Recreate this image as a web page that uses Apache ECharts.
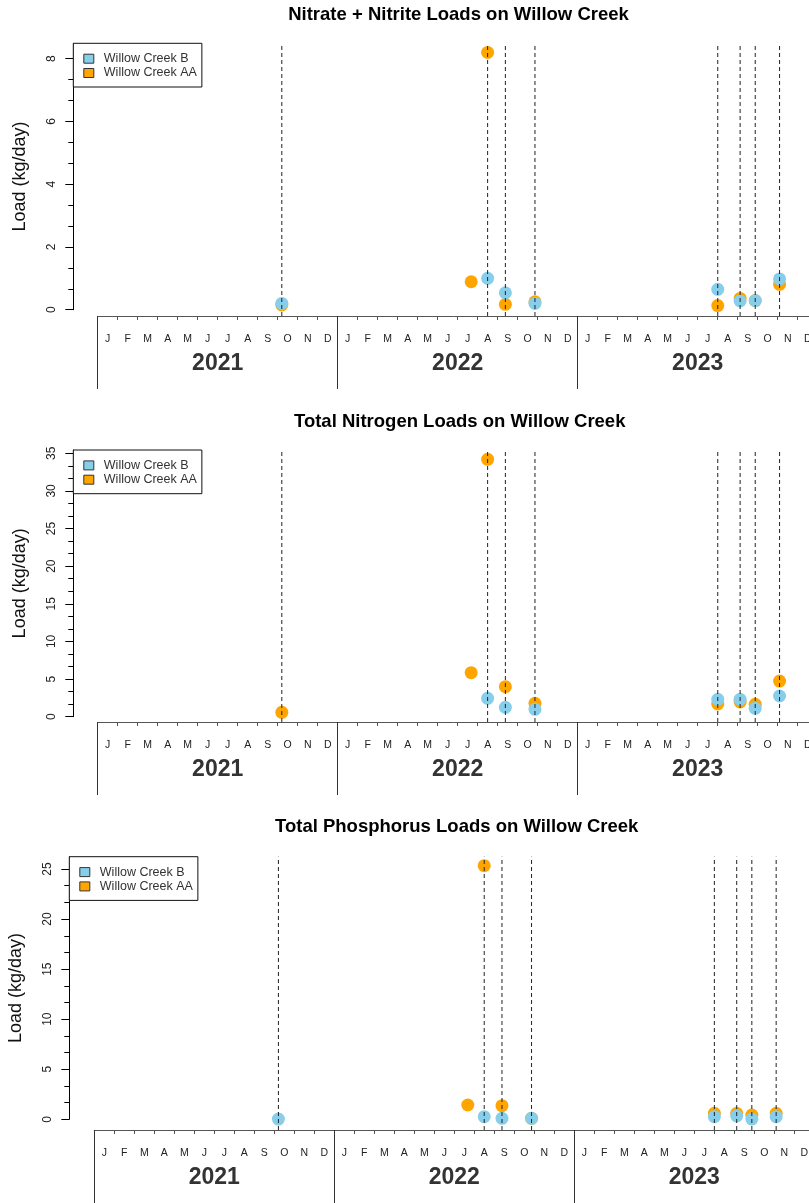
<!DOCTYPE html>
<html>
<head>
<meta charset="utf-8">
<script src="https://cdn.jsdelivr.net/npm/echarts@6/dist/echarts.min.js"></script>
<style>
  html, body { margin: 0; padding: 0; background: #fff; }
  #chart { width: 809px; height: 1203px; }
</style>
</head>
<body>
<div id="chart"></div>
<script>
// Sampling dates (one entry per sampling event)
const sampleDates = ['2021-10-08', '2022-07-23', '2022-08-17', '2022-09-13', '2022-10-28',
                     '2023-08-02', '2023-09-05', '2023-09-28', '2023-11-04'];
// Dates marked with a dashed vertical reference line
const dashedDates = ['2021-10-08', '2022-08-17', '2022-09-13', '2022-10-28',
                     '2023-08-02', '2023-09-05', '2023-09-28', '2023-11-04'];

const monthLetters = ['J', 'F', 'M', 'A', 'M', 'J', 'J', 'A', 'S', 'O', 'N', 'D'];
const years = ['2021', '2022', '2023'];
const siteNames = ['Willow Creek B', 'Willow Creek AA'];
const siteColors = ['#87CEEB', '#FFA500'];

const titles = [
  'Nitrate + Nitrite Loads on Willow Creek',
  'Total Nitrogen Loads on Willow Creek',
  'Total Phosphorus Loads on Willow Creek'
];
const yName = 'Load (kg/day)';

// Loads in kg/day, aligned with sampleDates (null = no sample)
const noxB  = [0.20, null, 1.00, 0.54, 0.20, 0.65, 0.28, 0.29, 0.98];
const noxAA = [0.15, 0.89, 8.20, 0.17, 0.25, 0.13, 0.36, 0.29, 0.81];
const tnB   = [null, null, 2.44, 1.25, 0.98, 2.31, 2.31, 1.11, 2.75];
const tnAA  = [0.58, 5.85, 34.2, 3.99, 1.78, 1.69, 1.95, 1.64, 4.74];
const tpB   = [0.02, null, 0.26, 0.10, 0.10, 0.26, 0.33, 0.02, 0.26];
const tpAA  = [null, 1.43, 25.33, 1.36, 0.10, 0.60, 0.60, 0.43, 0.60];

// Labelled y ticks for each panel
const noxTicks = [0, 2, 4, 6, 8];
const tnTicks  = [0, 5, 10, 15, 20, 25, 30, 35];
const tpTicks  = [0, 5, 10, 15, 20, 25];

// Panel layout (pixels) and value range
const panels = [
  { title: titles[0], b: noxB, aa: noxAA, ticks: noxTicks, yMax: 8.49,
    titleX: 458.5, titleY: 15, axisX: 73.3, left: 97.7, top: 43.3, zero: 309.7, axisY: 316 },
  { title: titles[1], b: tnB, aa: tnAA, ticks: tnTicks, yMax: 35.44,
    titleX: 459.7, titleY: 421.7, axisX: 73.3, left: 97.7, top: 450, zero: 716.7, axisY: 722 },
  { title: titles[2], b: tpB, aa: tpAA, ticks: tpTicks, yMax: 26.23,
    titleX: 456.7, titleY: 827.3, axisX: 69.3, left: 94.3, top: 856.7, zero: 1119.3, axisY: 1130 }
];

const FONT = 'Liberation Sans, Arial, sans-serif';
const monthCats = [];
years.forEach(y => monthLetters.forEach((m, k) => monthCats.push(y + '-' + (k + 1))));

function minorOf(ticks) {
  const out = [];
  for (let k = 0; k < ticks.length - 1; k++) {
    const step = (ticks[k + 1] - ticks[k]) / 3;
    out.push(ticks[k] + step, ticks[k] + 2 * step);
  }
  return out;
}

function points(vals) {
  const out = [];
  vals.forEach((v, k) => { if (v != null) out.push([sampleDates[k], v]); });
  return out;
}

const option = {
  animation: false,
  backgroundColor: '#fff',
  textStyle: { fontFamily: FONT },
  title: [], legend: [], grid: [], xAxis: [], yAxis: [], series: []
};

panels.forEach((p, i) => {
  const plotH = p.zero - p.top;
  const axisOffset = p.axisY - p.zero;
  const yBottom = -axisOffset * p.yMax / plotH;

  option.title.push({
    text: p.title, left: p.titleX, top: p.titleY, padding: 0,
    textAlign: 'center', textVerticalAlign: 'middle',
    textStyle: { fontFamily: FONT, fontSize: 18.5, fontWeight: 'bold', color: '#000' }
  });

  option.legend.push({
    data: siteNames, orient: 'vertical', left: p.axisX, top: p.top,
    padding: [8.4, 5, 7, 10], itemGap: 0.3, itemWidth: 10, itemHeight: 9,
    icon: 'rect', selectedMode: false, z: 10,
    backgroundColor: '#fff', borderColor: '#111', borderWidth: 1,
    itemStyle: { borderColor: '#333', borderWidth: 1 },
    textStyle: { fontFamily: FONT, fontSize: 12.5, color: '#333', lineHeight: 14, padding: [0, 0, 0, 5] }
  });

  // the time span runs a little past the right edge of the page
  option.grid.push({ left: p.left, top: p.top, width: 720, height: plotH, outerBoundsMode: 'none' });

  // data scale (calendar time)
  option.xAxis.push({
    type: 'time', gridIndex: i, position: 'bottom', show: false,
    min: '2021-01-01', max: '2024-01-01'
  });
  // month letters
  option.xAxis.push({
    type: 'category', gridIndex: i, position: 'bottom', offset: axisOffset,
    data: monthCats, boundaryGap: true,
    axisLine: { show: true, onZero: false, lineStyle: { color: '#555', width: 1 } },
    axisTick: { show: true, interval: 0, length: 4, lineStyle: { color: '#555' } },
    axisLabel: { interval: 0, margin: 18, fontSize: 10.5, color: '#222', fontFamily: FONT,
                 formatter: (v, idx) => monthLetters[idx % 12] },
    splitLine: { show: false }
  });
  // years
  option.xAxis.push({
    type: 'category', gridIndex: i, position: 'bottom', offset: axisOffset,
    data: years, boundaryGap: true,
    axisLine: { show: false, onZero: false },
    axisTick: { show: true, interval: 0, length: 73, lineStyle: { color: '#333' } },
    axisLabel: { interval: 0, margin: 36.5, fontSize: 23, fontWeight: 'bold', color: '#333', fontFamily: FONT },
    splitLine: { show: false }
  });

  const yOffset = p.left - p.axisX;
  option.yAxis.push({
    type: 'value', gridIndex: i, position: 'left', offset: yOffset,
    min: 0, max: p.yMax,
    name: yName, nameLocation: 'middle', nameGap: 44,
    nameTextStyle: { fontFamily: FONT, fontSize: 18, color: '#111' },
    axisLine: { show: true, onZero: false, lineStyle: { color: '#000', width: 1 } },
    axisTick: { show: true, length: 8, customValues: p.ticks, lineStyle: { color: '#000' } },
    axisLabel: { customValues: p.ticks, rotate: 90, margin: 15.5, fontSize: 12, color: '#222', fontFamily: FONT },
    splitLine: { show: false }
  });
  option.yAxis.push({
    type: 'value', gridIndex: i, position: 'left', offset: yOffset,
    min: 0, max: p.yMax,
    axisLine: { show: false, onZero: false },
    axisTick: { show: true, length: 5, customValues: minorOf(p.ticks), lineStyle: { color: '#000' } },
    axisLabel: { show: false },
    splitLine: { show: false }
  });

  const xi = 3 * i, yi = 2 * i;
  option.series.push({
    name: siteNames[1], type: 'scatter', xAxisIndex: xi, yAxisIndex: yi,
    data: points(p.aa), symbol: 'circle', symbolSize: 13, clip: false, z: 2,
    itemStyle: { color: siteColors[1], opacity: 1 }
  });
  option.series.push({
    name: siteNames[0], type: 'scatter', xAxisIndex: xi, yAxisIndex: yi,
    data: points(p.b), symbol: 'circle', symbolSize: 13, clip: false, z: 3,
    itemStyle: { color: siteColors[0], opacity: 1 }
  });
  dashedDates.forEach(d => {
    option.series.push({
      type: 'line', xAxisIndex: xi, yAxisIndex: yi, silent: true, clip: false, z: 4,
      symbol: 'none', data: [[d, yBottom], [d, p.yMax]],
      lineStyle: { color: '#222', width: 1, type: [4, 3] }
    });
  });
});

const chart = echarts.init(document.getElementById('chart'), null, { renderer: 'canvas' });
chart.setOption(option);
</script>
</body>
</html>
